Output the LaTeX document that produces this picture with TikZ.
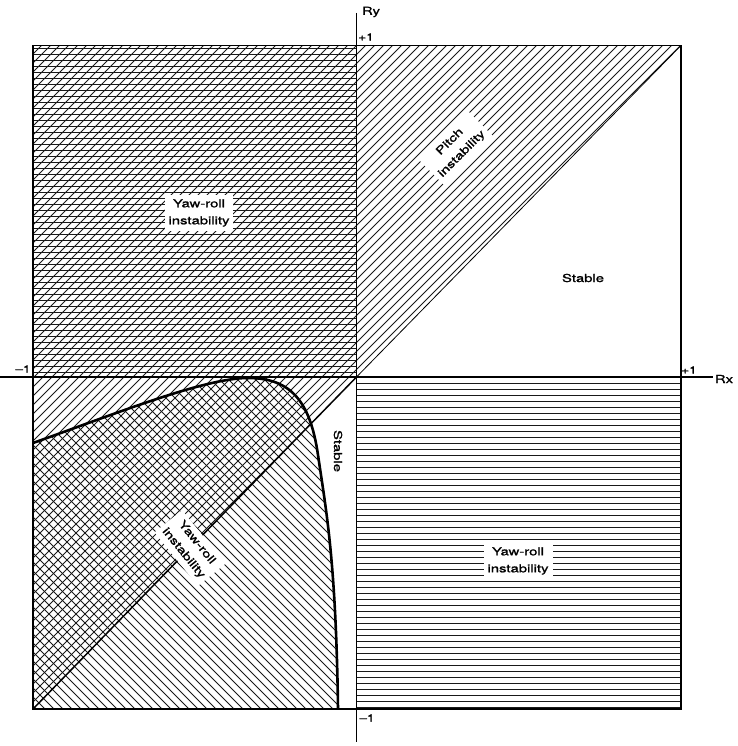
\documentclass[tikz,border=0pt]{standalone}
\usepackage{fontspec}
\newfontfamily\lblfont{TeX Gyre Heros}[FakeStretch=1.35,FakeBold=1.2]
\begin{document}
\begin{tikzpicture}[x=1pt,y=-1pt,
  hatch/.style={line width=0.8pt,black!90},
  lbl/.style={font=\lblfont\fontsize{11}{17}\selectfont, fill=white, align=center, inner sep=4pt},
  axnum/.style={font=\lblfont\fontsize{10}{11}\selectfont, inner sep=0pt},
  frame/.style={line width=1.5pt},
  axis/.style={line width=1.4pt},
  boundary/.style={line width=2.6pt}]
\useasboundingbox (0,0) rectangle (737,746);
% named corners
\coordinate (O) at (356.5,377);
\coordinate (TL) at (33,45.5);
\coordinate (TR) at (681,45.5);
\coordinate (BL) at (33,709);
\coordinate (BR) at (681,709);
% pitch-instability hatch (/)
\begin{scope}
  \clip (TL) -- (TR) -- (O) -- (BL) -- cycle;
  \foreach \c in {60,69,...,1400} \draw[hatch] (\c,0) -- ({\c-800},800);
\end{scope}
% yaw-roll instability inside the boundary curve (\)
\begin{scope}
  \clip (33,443) .. controls (120,412) and (200,380) .. (245,378)
        .. controls (290,377) and (310,400) .. (318,455)
        .. controls (326,510) and (336,560) .. (338,709) -- (BL) -- cycle;
  \foreach \c in {-700,-691,...,0} \draw[hatch] (\c,0) -- ({\c+800},800);
\end{scope}
% yaw-roll horizontal hatch, upper left
\begin{scope}
  \clip (TL) rectangle (O);
  \foreach \y in {48,54,...,377} \draw[hatch] (33,\y) -- (356.5,\y);
\end{scope}
% yaw-roll horizontal hatch, lower right
\begin{scope}
  \clip (O) rectangle (BR);
  \foreach \y in {383,389,...,708} \draw[hatch] (356.5,\y) -- (681,\y);
\end{scope}
% diagonals
\draw[line width=0.8pt] (O) -- (TR);
\draw[line width=1.5pt] (O) -- (BL);
% labels
\node[lbl] (yrTL) at (199,213) {Yaw-roll\\instability};
\node[lbl] (yrBR) at (518,561) {Yaw-roll\\instability};
\node[lbl, rotate=45] (pitch) at (456,148) {Pitch\\instability};
\node[lbl, rotate=-51] (yrBL) at (190,548) {Yaw-roll\\instability};
\node[lbl, fill=none] (stab1) at (583,278) {Stable};
\node[lbl, fill=none, rotate=-90] (stab2) at (338,451) {Stable};
% frame and axes
\draw[frame] (TL) rectangle (BR);
\coordinate (ytop) at (356.5,13);
\coordinate (ybot) at (356.5,742);
\coordinate (xleft) at (0,377);
\coordinate (xright) at (713,377);
\draw[axis] (ytop) -- (ybot);
\draw[axis] (xleft) -- (xright);
% stability boundary
\draw[boundary] (33,443) .. controls (120,412) and (200,380) .. (245,378)
        .. controls (290,377) and (310,400) .. (318,455)
        .. controls (326,510) and (336,560) .. (338,709);
% axis labels
\node[axnum, font=\lblfont\fontsize{11}{12}\selectfont] (ry) at (371,12) {Ry};
\node[axnum, font=\lblfont\fontsize{11}{12}\selectfont] (rx) at (724,379) {Rx};
\node[axnum] (yp1) at (366,37) {+1};
\node[axnum] (ym1) at (367,718) {–1};
\node[axnum] (xp1) at (689,370) {+1};
\node[axnum] (xm1) at (23,369) {–1};
\end{tikzpicture}
\end{document}
